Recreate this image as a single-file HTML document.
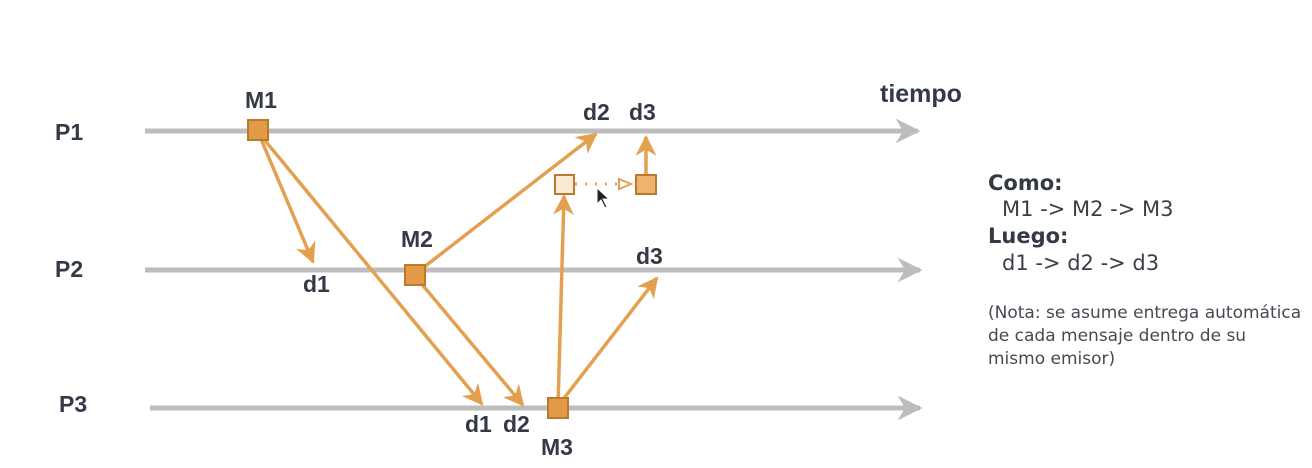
<!DOCTYPE html>
<html><head><meta charset="utf-8"><style>
html,body{margin:0;padding:0;background:#fff;}
svg{display:block;font-family:"Liberation Sans",sans-serif;}
.lb{font-weight:bold;font-size:23px;fill:#333a45;}
.rt{font-family:"DejaVu Sans",sans-serif;font-size:21px;fill:#3a3f48;}
.nt{font-family:"DejaVu Sans",sans-serif;font-size:17px;fill:#444a52;}
.hd{font-family:"DejaVu Sans",sans-serif;font-weight:bold;font-size:21px;fill:#333a45;}
</style></head><body>
<svg width="1312" height="468" viewBox="0 0 1312 468">
<defs>
<marker id="ah" viewBox="0 0 10 10" refX="9" refY="5" markerWidth="6" markerHeight="6" orient="auto"><path d="M0,0 L10,5 L0,10 L3,5 z" fill="#e3a150"/></marker>
<marker id="gh" viewBox="0 0 10 10" refX="9" refY="5" markerWidth="5" markerHeight="5" orient="auto"><path d="M0,0 L10,5 L0,10 L3,5 z" fill="#bdbdbd"/></marker>
</defs>
<g stroke="#bdbdbd" stroke-width="5" marker-end="url(#gh)">
<line x1="145" y1="131" x2="918" y2="131"/>
<line x1="145" y1="270" x2="920" y2="270"/>
<line x1="150" y1="408" x2="920" y2="408"/>
</g>
<g stroke="#e3a150" stroke-width="3.5" marker-end="url(#ah)" fill="none">
<line x1="258" y1="132" x2="313" y2="262"/>
<line x1="258" y1="132" x2="482" y2="404"/>
<line x1="415" y1="276" x2="523" y2="405"/>
<line x1="415" y1="274" x2="596" y2="134"/>
<line x1="558" y1="406" x2="564" y2="196"/>
<line x1="558" y1="406" x2="657" y2="278"/>
<line x1="646" y1="176" x2="646" y2="137"/>
</g>
<line x1="575" y1="184" x2="620" y2="184" stroke="#e3a150" stroke-width="3" stroke-dasharray="2,8"/>
<path d="M619,179 L631,184 L619,189 z" fill="#fff" stroke="#e3a150" stroke-width="2"/>
<g stroke="#b97a30" stroke-width="2">
<rect x="248" y="120" width="20" height="20" fill="#e39b48"/>
<rect x="405" y="265" width="20" height="20" fill="#e39b48"/>
<rect x="548" y="398" width="20" height="20" fill="#e39b48"/>
<rect x="555" y="175" width="19" height="19" fill="#fbe9d6"/>
<rect x="636" y="175" width="20" height="19" fill="#eeb46e"/>
</g>
<g>
<text class="lb" x="55" y="140">P1</text>
<text class="lb" x="55" y="277">P2</text>
<text class="lb" x="59" y="412">P3</text>
<text class="lb" x="245" y="108">M1</text>
<text class="lb" x="401" y="247">M2</text>
<text class="lb" x="541" y="455">M3</text>
<text class="lb" x="583" y="120">d2</text>
<text class="lb" x="629" y="120">d3</text>
<text class="lb" x="303" y="292">d1</text>
<text class="lb" x="636" y="264">d3</text>
<text class="lb" x="465" y="432">d1</text>
<text class="lb" x="503" y="432">d2</text>
<text class="lb" x="880" y="102" style="font-size:25px">tiempo</text>
</g>
<g>
<text class="hd" x="988" y="190">Como:</text>
<text class="rt" x="1002" y="216">M1 -&gt; M2 -&gt; M3</text>
<text class="hd" x="988" y="243">Luego:</text>
<text class="rt" x="1002" y="270">d1 -&gt; d2 -&gt; d3</text>
<text class="nt" x="988" y="318">(Nota: se asume entrega automática</text>
<text class="nt" x="988" y="341">de cada mensaje dentro de su</text>
<text class="nt" x="988" y="364">mismo emisor)</text>
</g>
<path d="M597,188 L597,204 L601,200 L605,208 L607,207 L603,199 L609,199 z" fill="#222" stroke="#fff" stroke-width="1"/>
</svg>
</body></html>
